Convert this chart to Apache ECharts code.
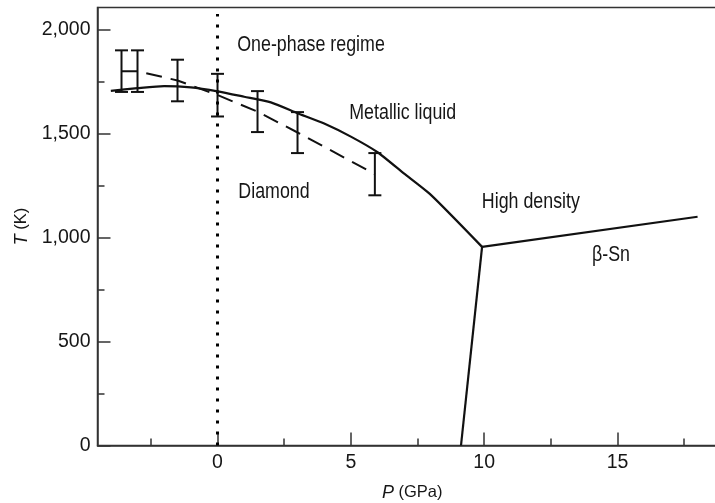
<!DOCTYPE html>
<html>
<head>
<meta charset="utf-8">
<script src="https://cdn.jsdelivr.net/npm/echarts@6/dist/echarts.min.js"></script>
<style>
html,body{margin:0;padding:0;background:#fff;}
#c{width:715px;height:503px;}
</style>
</head>
<body>
<div id="c"></div>
<script>
// ---- data ----
const xMajorTicks = [0, 5, 10, 15];
const xMinorTicks = [-2.5, 2.5, 7.5, 12.5, 17.5];
const yMajorTicks = [0, 500, 1000, 1500, 2000];
const yMinorTicks = [250, 750, 1250, 1750];

// melting curve (solid)
const meltP = [-4, -3, -2, -1, 0, 1, 2, 3, 4, 5, 6, 7, 8, 9.92];
const meltT = [1705, 1718, 1728, 1722, 1703, 1677, 1650, 1598, 1548, 1485, 1410, 1307, 1205, 955];
// high density / beta-Sn boundary
const hdP = [9.92, 18];
const hdT = [955, 1100];
// diamond / beta-Sn boundary
const dbP = [9.92, 9.13];
const dbT = [955, 0];
// simulation points (dashed) with error bars
const simP = [-3.6, -3.0, -1.5, 0, 1.5, 3, 5.9];
const simT = [1800, 1800, 1755, 1685, 1605, 1505, 1305];
const simLo = [1700, 1700, 1655, 1582, 1507, 1406, 1203];
const simHi = [1900, 1900, 1855, 1787, 1704, 1603, 1406];
// dotted line at P = 0
const dotP = [0, 0];
const dotT = [0, 2075];
// region labels
const regionNames = ['One-phase regime', 'Metallic liquid', 'Diamond', 'High density', 'β-Sn'];
const regionP = [0.74, 4.94, 0.78, 9.91, 14.04];
const regionT = [1926, 1598, 1221, 1173, 917];

const zip = (a, b) => a.map((v, i) => [v, b[i]]);

const FONT = '"Liberation Sans", Arial, sans-serif';
const TXT = '#161616';
const AX = '#333';

const chart = echarts.init(document.getElementById('c'), null, {renderer: 'canvas'});

const fmt = v => Number(v).toLocaleString('en-US');

const baseX = {type: 'value', min: -4.5, max: 19.1, splitLine: {show: false}};
const baseY = {type: 'value', min: 0, max: 2106, splitLine: {show: false}};

chart.setOption({
  animation: false,
  backgroundColor: '#fff',
  grid: {left: 97.5, top: 7.5, width: 629.4, height: 438, outerBoundsMode: 'none', containLabel: false,
         show: true, borderColor: AX, borderWidth: 1.5, backgroundColor: 'transparent'},
  xAxis: [
    Object.assign({}, baseX, {
      position: 'bottom',
      axisLine: {show: true, onZero: false, lineStyle: {color: AX, width: 1.5}},
      axisTick: {show: true, inside: true, length: 13, customValues: xMajorTicks, lineStyle: {color: AX, width: 1.5}},
      axisLabel: {show: true, customValues: xMajorTicks, formatter: fmt, color: TXT, fontFamily: FONT, fontSize: 19.5, margin: 7},
      name: '{i|P} (GPa)',
      nameLocation: 'middle',
      nameGap: 38,
      nameTextStyle: {color: TXT, fontFamily: FONT, fontSize: 16.5, rich: {i: {fontStyle: 'italic', fontFamily: FONT, fontSize: 18, color: TXT}}}
    }),
    Object.assign({}, baseX, {
      position: 'bottom',
      axisLine: {show: false, onZero: false},
      axisTick: {show: true, inside: true, length: 7, customValues: xMinorTicks, lineStyle: {color: AX, width: 1.5}},
      axisLabel: {show: false}
    })
  ],
  yAxis: [
    Object.assign({}, baseY, {
      position: 'left',
      axisLine: {show: true, onZero: false, lineStyle: {color: AX, width: 1.5}},
      axisTick: {show: true, inside: true, length: 13, customValues: yMajorTicks, lineStyle: {color: AX, width: 1.5}},
      axisLabel: {show: true, customValues: yMajorTicks, formatter: fmt, color: TXT, fontFamily: FONT, fontSize: 19.5, margin: 7},
      name: '{i|T} (K)',
      nameLocation: 'middle',
      nameRotate: 90,
      nameGap: 60,
      nameTextStyle: {color: TXT, fontFamily: FONT, fontSize: 16.5, rich: {i: {fontStyle: 'italic', fontFamily: FONT, fontSize: 18, color: TXT}}}
    }),
    Object.assign({}, baseY, {
      position: 'left',
      axisLine: {show: false, onZero: false},
      axisTick: {show: true, inside: true, length: 7, customValues: yMinorTicks, lineStyle: {color: AX, width: 1.5}},
      axisLabel: {show: false}
    })
  ],
  series: [
    {
      type: 'line', data: zip(dotP, dotT), symbol: 'none', silent: true,
      lineStyle: {color: '#000', width: 3, type: [3, 8], cap: 'butt'}
    },
    {
      type: 'line', data: zip(simP, simT), symbol: 'none', silent: true,
      lineStyle: {color: '#111', width: 2, type: [16, 9], cap: 'butt'}
    },
    {
      type: 'custom', silent: true,
      data: simP.map((p, i) => [p, simLo[i], simHi[i]]),
      renderItem: function (params, api) {
        const x = api.value(0), lo = api.value(1), hi = api.value(2);
        const a = api.coord([x, lo]);
        const b = api.coord([x, hi]);
        const hw = 6.5;
        const st = {stroke: '#111', lineWidth: 2};
        return {
          type: 'group',
          children: [
            {type: 'line', shape: {x1: a[0], y1: a[1], x2: b[0], y2: b[1]}, style: st},
            {type: 'line', shape: {x1: a[0] - hw, y1: a[1], x2: a[0] + hw, y2: a[1]}, style: st},
            {type: 'line', shape: {x1: b[0] - hw, y1: b[1], x2: b[0] + hw, y2: b[1]}, style: st}
          ]
        };
      }
    },
    {
      type: 'line', data: zip(meltP, meltT), symbol: 'none', silent: true, smooth: 0.2,
      lineStyle: {color: '#111', width: 2.2}
    },
    {
      type: 'line', data: zip(hdP, hdT), symbol: 'none', silent: true,
      lineStyle: {color: '#111', width: 2.2}
    },
    {
      type: 'line', data: zip(dbP, dbT), symbol: 'none', silent: true,
      lineStyle: {color: '#111', width: 2.2}
    },
    {
      type: 'custom', silent: true,
      data: regionNames.map((n, i) => [regionP[i], regionT[i], i]),
      renderItem: function (params, api) {
        const p = api.coord([api.value(0), api.value(1)]);
        return {
          type: 'text',
          x: p[0], y: p[1], scaleX: 0.81,
          style: {
            text: regionNames[api.value(2)],
            fill: TXT,
            font: '22px ' + FONT,
            align: 'left',
            verticalAlign: 'middle'
          }
        };
      }
    }
  ]
});
</script>
</body>
</html>
